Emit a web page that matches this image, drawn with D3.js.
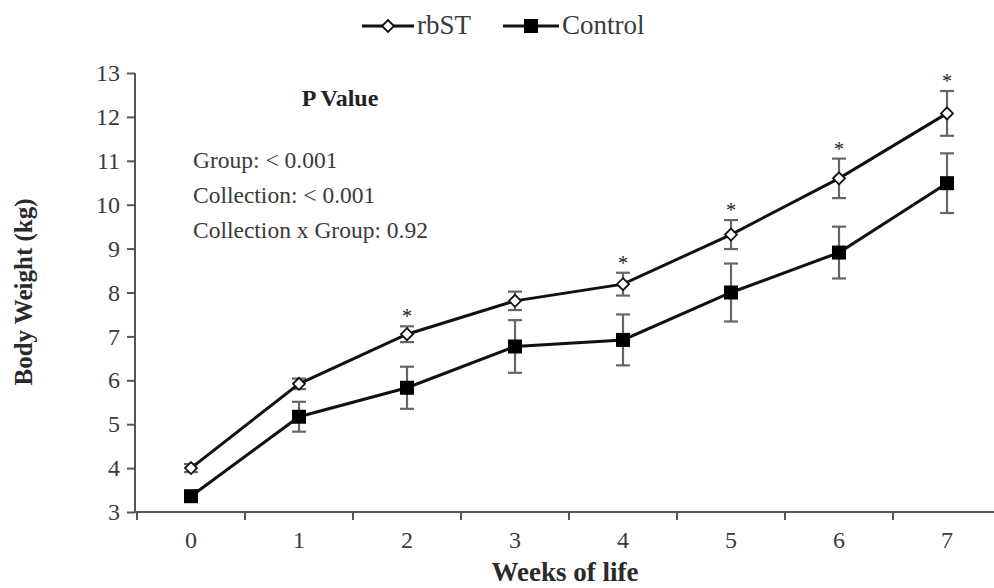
<!DOCTYPE html>
<html><head><meta charset="utf-8">
<script src="https://cdn.jsdelivr.net/npm/d3@7"></script>
<style>body{margin:0;background:#fff}svg{display:block}svg text{font-family:'Liberation Serif',Tinos,'Times New Roman',Times,'DejaVu Serif',serif !important}</style>
</head><body><svg id="c" width="994" height="588"></svg>
<script>
const weeks = ["0","1","2","3","4","5","6","7"];
const rbST = [4.0, 5.92, 7.05, 7.81, 8.19, 9.32, 10.6, 12.08];
const rbSTErr = [0.09, 0.12, 0.18, 0.21, 0.26, 0.33, 0.45, 0.51];
const control = [3.36, 5.17, 5.83, 6.77, 6.92, 8.0, 8.91, 10.49];
const controlErr = [0.08, 0.34, 0.48, 0.6, 0.58, 0.66, 0.59, 0.68];
const significant = [false, false, true, false, true, true, true, true];
const yTicks = [3,4,5,6,7,8,9,10,11,12,13];
const pLines = ["Group: < 0.001", "Collection: < 0.001", "Collection x Group: 0.92"];

const FONT = "'Liberation Serif', Tinos, 'Times New Roman', Times, serif";
const svg = d3.select("#c").attr("font-family", FONT);
const x = d3.scaleBand().domain(weeks).range([137, 1001]).padding(0);
const y = d3.scaleLinear().domain([3, 13]).range([512, 73]);
const axisCol = "#555", textCol = "#3a3a3a";

// Y axis
const ya = svg.append("g").attr("transform","translate(135,0)")
  .call(d3.axisLeft(y).tickValues(yTicks).tickSize(8).tickPadding(7).tickFormat(d3.format("d")));
ya.attr("font-family", FONT);
ya.select(".domain").attr("stroke",axisCol).attr("stroke-width",2).attr("d","M0,73V512");
ya.selectAll(".tick line").attr("stroke",axisCol).attr("stroke-width",2);
ya.selectAll(".tick text").attr("fill",textCol).style("font-size","24px");

// X axis
const xa = svg.append("g").attr("transform","translate(0,512)");
xa.append("line").attr("x1",135).attr("x2",994).attr("y1",0).attr("y2",0).attr("stroke",axisCol).attr("stroke-width",2);
xa.selectAll("line.t").data(weeks).join("line").attr("class","t")
  .attr("x1",d=>x(d)).attr("x2",d=>x(d)).attr("y1",0).attr("y2",8)
  .attr("stroke",axisCol).attr("stroke-width",2);
xa.selectAll("text").data(weeks).join("text")
  .attr("x",d=>x(d)+x.bandwidth()/2).attr("y",36).attr("text-anchor","middle")
  .attr("fill",textCol).style("font-size","24px").text(d=>d);

// Axis titles
svg.append("text").attr("x",565).attr("y",581).attr("text-anchor","middle")
  .attr("fill","#2a2a2a").style("font-size","27px").style("font-weight","bold").text("Weeks of life");
svg.append("text").attr("transform","translate(32,292) rotate(-90)").attr("text-anchor","middle")
  .attr("fill","#2a2a2a").style("font-size","25px").style("font-weight","bold").text("Body Weight (kg)");

// Annotation
svg.append("text").attr("x",340).attr("y",106).attr("text-anchor","middle")
  .attr("fill","#222").style("font-size","24px").style("font-weight","bold").text("P Value");
svg.selectAll("text.p").data(pLines).join("text").attr("class","p")
  .attr("x",193).attr("y",(d,i)=>168+i*35).attr("fill",textCol).style("font-size","23.5px").text(d=>d);

const cx = (d,i)=>x(weeks[i])+x.bandwidth()/2;

function drawSeries(vals, errs, marker){
  const g = svg.append("g");
  vals.forEach((v,i)=>{
    const xx = cx(v,i), e = errs[i];
    g.append("line").attr("x1",xx).attr("x2",xx).attr("y1",y(v+e)).attr("y2",y(v-e)).attr("stroke","#666").attr("stroke-width",2.2);
    [v+e, v-e].forEach(t=>g.append("line").attr("x1",xx-7).attr("x2",xx+7).attr("y1",y(t)).attr("y2",y(t)).attr("stroke","#666").attr("stroke-width",2.2));
  });
  const line = d3.line().x((d,i)=>cx(d,i)).y(d=>y(d));
  g.append("path").datum(vals).attr("d",line).attr("fill","none").attr("stroke","#111").attr("stroke-width",3);
  vals.forEach((v,i)=>{
    const xx = cx(v,i), yy = y(v);
    if(marker==="diamond"){
      g.append("path").attr("d",`M${xx},${yy-6}L${xx+6},${yy}L${xx},${yy+6}L${xx-6},${yy}Z`)
        .attr("fill","#fff").attr("stroke","#111").attr("stroke-width",1.8);
    } else {
      g.append("rect").attr("x",xx-7).attr("y",yy-7).attr("width",14).attr("height",14).attr("fill","#000");
    }
  });
}
drawSeries(control, controlErr, "square");
drawSeries(rbST, rbSTErr, "diamond");

// significance stars
svg.selectAll("text.star").data(rbST.map((v,i)=>({v,i})).filter(d=>significant[d.i])).join("text").attr("class","star")
  .attr("x",d=>cx(d.v,d.i)).attr("y",d=>y(d.v+rbSTErr[d.i])-3).attr("text-anchor","middle")
  .attr("fill","#222").style("font-size","20px").text("*");

// Legend
const lg = svg.append("g");
lg.append("line").attr("x1",362).attr("x2",414).attr("y1",26).attr("y2",26).attr("stroke","#111").attr("stroke-width",3);
lg.append("path").attr("d","M388,20L394,26L388,32L382,26Z").attr("fill","#fff").attr("stroke","#111").attr("stroke-width",1.8);
lg.append("text").attr("x",417).attr("y",34).attr("fill",textCol).style("font-size","27px").text("rbST");
lg.append("line").attr("x1",503).attr("x2",559).attr("y1",26).attr("y2",26).attr("stroke","#111").attr("stroke-width",3);
lg.append("rect").attr("x",524).attr("y",19).attr("width",14).attr("height",14).attr("fill","#000");
lg.append("text").attr("x",562).attr("y",34).attr("fill",textCol).style("font-size","27px").text("Control");
</script></body></html>
